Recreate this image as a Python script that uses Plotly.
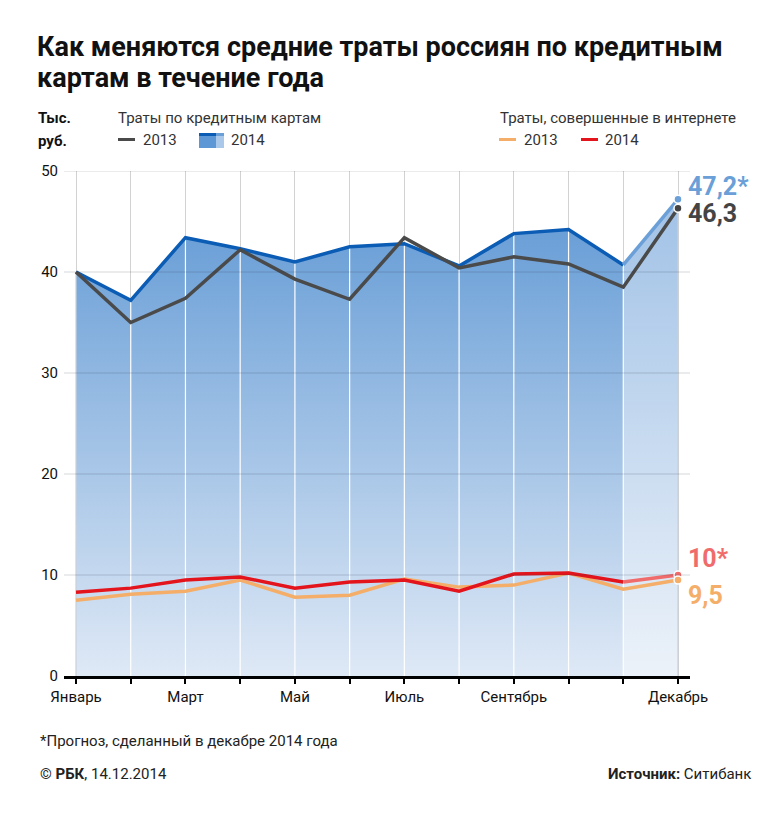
import plotly.graph_objects as go

# ---------------- data ----------------
months = ["Январь", "Февраль", "Март", "Апрель", "Май", "Июнь", "Июль",
          "Август", "Сентябрь", "Октябрь", "Ноябрь", "Декабрь"]
month_labels = ["Январь", "", "Март", "", "Май", "", "Июль", "", "Сентябрь", "", "", "Декабрь"]
cards_2013 = [40.0, 35.0, 37.4, 42.2, 39.3, 37.3, 43.4, 40.4, 41.5, 40.8, 38.5, 46.3]
cards_2014 = [40.0, 37.2, 43.4, 42.3, 41.0, 42.5, 42.8, 40.6, 43.8, 44.2, 40.7, 47.2]
web_2013 = [7.5, 8.1, 8.4, 9.5, 7.8, 8.0, 9.6, 8.8, 9.0, 10.2, 8.6, 9.5]
web_2014 = [8.3, 8.7, 9.5, 9.8, 8.7, 9.3, 9.5, 8.4, 10.1, 10.2, 9.3, 10.0]
y_ticks = [0, 10, 20, 30, 40, 50]
forecast_from = 10  # index of November: Dec 2014 values are a forecast

# ---------------- styles ----------------
FONT = "Roboto"
C_BLUE = "#0b5cb4"
C_BLUE_F = "#6a9fd8"
C_GRAY = "#4a4a4a"
C_RED = "#e3141c"
C_RED_F = "#f06c6c"
C_ORANGE = "#f4ae69"

xs = list(range(len(months)))
pad = 12 / 54.73

fig = go.Figure()

n = forecast_from + 1
fig.add_trace(go.Scatter(
    x=xs[:n], y=cards_2014[:n], mode="none", fill="tozeroy",
    fillgradient=dict(type="vertical", start=0, stop=44,
                      colorscale=[[0, "#dfe9f6"], [1, "#6a9fd7"]]),
    hoverinfo="skip", showlegend=False))
fig.add_trace(go.Scatter(
    x=xs[forecast_from:], y=cards_2014[forecast_from:], mode="none", fill="tozeroy",
    fillgradient=dict(type="vertical", start=0, stop=46,
                      colorscale=[[0, "#ecf2f9"], [1, "#a3c3e7"]]),
    hoverinfo="skip", showlegend=False))

vx, vy, ex, ey = [], [], [], []
for i, v in enumerate(cards_2014):
    if i in (0, len(xs) - 1):
        ex += [i, i, None]
        ey += [0, v, None]
    else:
        vx += [i, i, None]
        vy += [0, v, None]
fig.add_trace(go.Scatter(x=vx, y=vy, mode="lines", line=dict(color="white", width=1.2),
                         hoverinfo="skip", showlegend=False))
fig.add_trace(go.Scatter(x=ex, y=ey, mode="lines", line=dict(color="#c9d0d8", width=1.2),
                         hoverinfo="skip", showlegend=False))


def line(x, y, color, width=3.5):
    fig.add_trace(go.Scatter(x=x, y=y, mode="lines",
                             line=dict(color=color, width=width),
                             hoverinfo="skip", showlegend=False))


line(xs, web_2013, C_ORANGE)
line(xs[:n], web_2014[:n], C_RED)
line(xs[forecast_from:], web_2014[forecast_from:], C_RED_F)
line(xs[:n], cards_2014[:n], C_BLUE)
line(xs[forecast_from:], cards_2014[forecast_from:], C_BLUE_F)
line(xs, cards_2013, C_GRAY)

last = xs[-1]
ends = [(cards_2014[-1], C_BLUE_F), (cards_2013[-1], "#444444"),
        (web_2014[-1], C_RED_F), (web_2013[-1], C_ORANGE)]
fig.add_trace(go.Scatter(
    x=[last] * len(ends), y=[e[0] for e in ends], mode="markers",
    marker=dict(size=8, color=[e[1] for e in ends], line=dict(color="white", width=1.5)),
    hoverinfo="skip", showlegend=False))


def fmt(v, star=False):
    s = f"{v:g}".replace(".", ",")
    return s + ("*" if star else "")


labels = [(cards_2014[-1], fmt(cards_2014[-1], True), C_BLUE_F, 13),
          (cards_2013[-1], fmt(cards_2013[-1]), "#444444", -5),
          (web_2014[-1], fmt(web_2014[-1], True), C_RED_F, 17),
          (web_2013[-1], fmt(web_2013[-1]), C_ORANGE, -15)]
for v, t, c, sh in labels:
    fig.add_annotation(x=last, y=v, text=f"<b>{t}</b>", xref="x", yref="y",
                       xanchor="left", yanchor="middle", xshift=8, yshift=sh,
                       showarrow=False, font=dict(family=FONT, size=25, color=c))

for t in y_ticks[1:]:
    fig.add_shape(type="line", xref="x", yref="y", x0=-pad, x1=11 + pad, y0=t, y1=t,
                  line=dict(color="rgba(40,50,70,0.2)", width=1), layer="above")

# ---------------- geometry (page body has an 8px offset) ----------------
OFF = 8
W, H = 784, 818
L = 64 - OFF
T = 171 - OFF
B = H - (676 - OFF)
R = W - (690 - OFF)
PW, PH = W - L - R, H - T - B


def px(xw):
    return (xw - OFF - L) / PW


def py(yw):
    return (H - B - (yw - OFF)) / PH


def txt(x, y, s, size=15, color="#222", anchor="left", bold=False):
    fig.add_annotation(x=px(x), y=py(y), xref="paper", yref="paper",
                       text=f"<b>{s}</b>" if bold else s,
                       xanchor=anchor, yanchor="middle", showarrow=False,
                       font=dict(family=FONT, size=size, color=color))


txt(35, 47, "Как меняются средние траты россиян по кредитным", size=27, color="#111", bold=True)
txt(35, 78, "картам в течение года", size=27, color="#111", bold=True)

txt(36, 118, "Тыс.", bold=True, color="#111")
txt(36, 141, "руб.", bold=True, color="#111")
txt(116, 118, "Траты по кредитным картам", color="#333")
txt(141, 140, "2013", color="#333")
txt(229, 140, "2014", color="#333")
txt(498, 118, "Траты, совершенные в интернете", color="#333")
txt(522, 140, "2013", color="#333")
txt(603, 140, "2014", color="#333")


def rect(x0, y0, x1, y1, color):
    fig.add_shape(type="rect", xref="paper", yref="paper", x0=px(x0), x1=px(x1),
                  y0=py(y1), y1=py(y0), fillcolor=color, line=dict(width=0), layer="above")


rect(118, 138, 135, 141, C_GRAY)
rect(199, 133, 216, 148, "#5d97d6")
rect(216, 133, 224, 148, "#a9c8ea")
rect(199, 133, 216, 136, C_BLUE)
rect(216, 133, 224, 136, C_BLUE_F)
rect(499, 138, 516, 141, C_ORANGE)
rect(581, 138, 598, 141, C_RED)

txt(38, 741, "*Прогноз, сделанный в декабре 2014 года", size=15, color="#222")
txt(38, 774, "© <b>РБК</b>, 14.12.2014", size=15, color="#222")
txt(753, 774, "<b>Источник:</b> Ситибанк", size=15, color="#222", anchor="right")

fig.update_layout(
    width=W, height=H, margin=dict(l=L, r=R, t=T, b=B, autoexpand=False),
    paper_bgcolor="white", plot_bgcolor="white", showlegend=False,
    font=dict(family=FONT, size=15, color="#111"),
    xaxis=dict(range=[-pad, 11 + pad], tickmode="array", tickvals=xs, ticktext=month_labels,
               showgrid=True, gridcolor="#d2d2d2", gridwidth=1, zeroline=False,
               showline=True, linecolor="#000", linewidth=3, layer="above traces",
               ticks="outside", ticklen=5, tickwidth=1.5, tickcolor="#000",
               tickfont=dict(family=FONT, size=15, color="#111"), fixedrange=True),
    yaxis=dict(range=[0, 50], tickmode="array", tickvals=y_ticks, showgrid=False,
               zeroline=False, showline=False, ticks="", ticklabelstandoff=5,
               tickfont=dict(family=FONT, size=15, color="#111"), fixedrange=True),
)

fig.write_html("out.html")
